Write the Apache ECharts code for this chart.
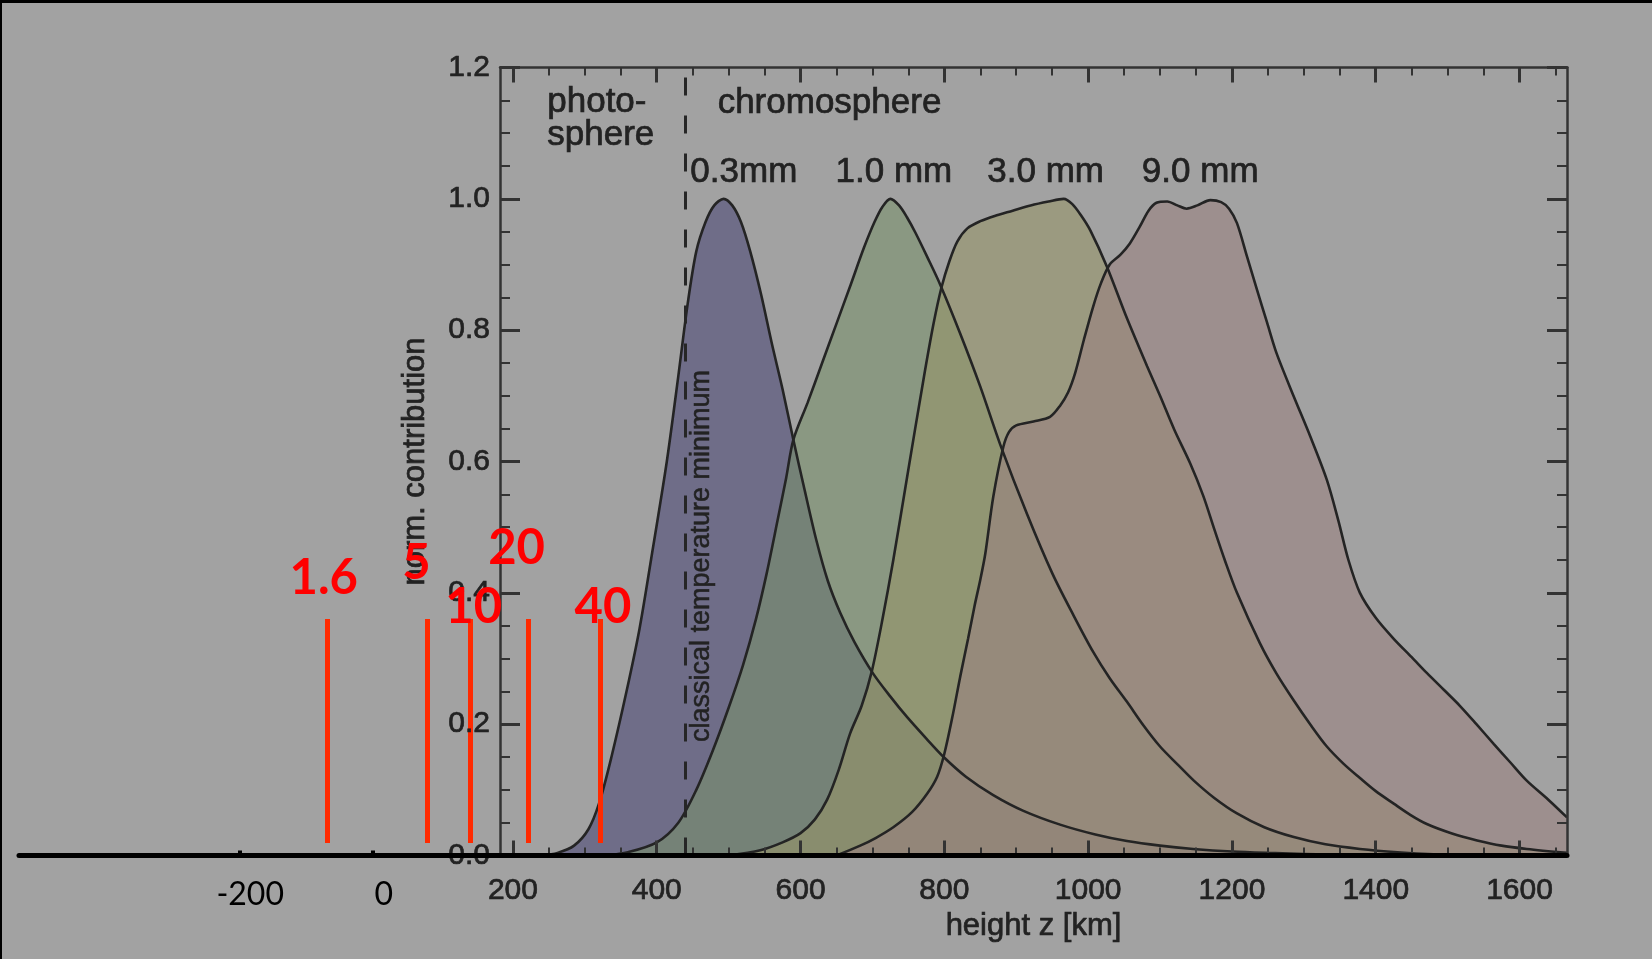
<!DOCTYPE html>
<html>
<head>
<meta charset="utf-8">
<script src="https://cdn.jsdelivr.net/npm/echarts@6/dist/echarts.min.js"></script>
<style>
html,body{margin:0;padding:0;background:#a2a2a2;}
#chart{width:1652px;height:959px;}
#edge{position:absolute;left:0;top:0;width:1652px;height:959px;box-sizing:border-box;border-top:3px solid #000;border-left:2px solid #000;pointer-events:none;}
</style>
</head>
<body>
<div id="chart"></div>
<div id="edge"></div>
<script>
// ---------------- data ----------------
// contribution functions: [height z (km), normalized contribution]
const curve03 = [[240,0],[262,0.004],[285,0.015],[305,0.04],[320,0.08],[337,0.15],[358,0.25],[376,0.345],[392,0.45],[414,0.6],[430,0.73],[443,0.84],[455,0.92],[468,0.965],[480,0.99],[493,1.0],[505,0.99],[517,0.965],[530,0.92],[545,0.855],[560,0.78],[575,0.71],[590,0.633],[606,0.555],[622,0.48],[638,0.418],[655,0.37],[675,0.325],[701,0.277],[725,0.242],[748,0.211],[775,0.178],[799,0.15],[830,0.12],[868,0.092],[910,0.068],[961,0.047],[1010,0.032],[1054,0.022],[1100,0.015],[1146,0.01],[1200,0.006],[1250,0.004],[1350,0.001],[1420,0]];
const curve10 = [[330,0],[360,0.005],[400,0.02],[430,0.05],[455,0.1],[478,0.16],[500,0.225],[520,0.29],[538,0.36],[553,0.43],[568,0.51],[580,0.575],[590,0.633],[610,0.69],[630,0.75],[650,0.81],[670,0.87],[688,0.925],[703,0.965],[714,0.988],[725,1.0],[737,0.99],[748,0.972],[760,0.948],[776,0.912],[794,0.87],[822,0.795],[850,0.714],[878,0.625],[915,0.52],[950,0.43],[980,0.365],[1007,0.31],[1030,0.27],[1054,0.234],[1077,0.198],[1100,0.166],[1125,0.138],[1147,0.114],[1175,0.088],[1207,0.064],[1245,0.043],[1286,0.028],[1330,0.017],[1378,0.01],[1430,0.005],[1480,0.002],[1560,0]];
const curve30 = [[500,0],[544,0.008],[575,0.02],[600,0.034],[620,0.055],[637,0.085],[653,0.13],[669,0.186],[685,0.228],[699,0.28],[714,0.36],[729,0.45],[748,0.575],[771,0.725],[785,0.81],[796,0.865],[807,0.905],[818,0.935],[832,0.955],[850,0.966],[870,0.974],[895,0.982],[920,0.99],[945,0.996],[966,1.0],[978,0.992],[990,0.975],[1003,0.952],[1026,0.897],[1054,0.818],[1082,0.745],[1100,0.7],[1120,0.648],[1142,0.597],[1160,0.548],[1176,0.495],[1190,0.45],[1207,0.4],[1239,0.323],[1262,0.277],[1286,0.236],[1310,0.198],[1332,0.166],[1355,0.14],[1378,0.118],[1400,0.098],[1425,0.079],[1448,0.062],[1471,0.048],[1505,0.034],[1541,0.023],[1575,0.015],[1610,0.01],[1666,0.004]];
const curve90 = [[650,0],[683,0.015],[705,0.027],[729,0.043],[755,0.066],[776,0.094],[790,0.12],[800,0.155],[811,0.21],[822,0.272],[833,0.33],[842,0.38],[850,0.42],[857,0.46],[868,0.546],[882,0.622],[890,0.645],[900,0.655],[924,0.661],[947,0.668],[961,0.685],[972,0.705],[982,0.735],[994,0.785],[1007,0.836],[1018,0.872],[1030,0.9],[1045,0.915],[1058,0.932],[1072,0.958],[1084,0.982],[1095,0.994],[1110,0.996],[1124,0.99],[1137,0.985],[1152,0.99],[1170,0.998],[1185,0.995],[1196,0.985],[1207,0.963],[1221,0.912],[1235,0.861],[1249,0.811],[1262,0.765],[1286,0.699],[1309,0.638],[1332,0.572],[1348,0.51],[1362,0.45],[1378,0.4],[1400,0.362],[1425,0.33],[1450,0.302],[1471,0.278],[1495,0.252],[1517,0.228],[1540,0.2],[1564,0.17],[1587,0.142],[1610,0.114],[1640,0.085],[1666,0.058]];
const curveNames = ['0.3mm', '1.0 mm', '3.0 mm', '9.0 mm'];

// axis ticks
const xMajorTicks = [200,400,600,800,1000,1200,1400,1600];
const xMinorTicks = [200,250,300,350,400,450,500,550,600,650,700,750,800,850,900,950,1000,1050,1100,1150,1200,1250,1300,1350,1400,1450,1500,1550,1600,1650];
const overlayTicks = [-200, 0];

// annotations (text, height km, contribution level)
const annoTexts = ['photo-\nsphere', 'chromosphere', '0.3mm', '1.0 mm', '3.0 mm', '9.0 mm'];
const annoHeights = [247, 484, 446, 648, 859, 1074];
const annoLevels = [1.122, 1.145, 1.040, 1.040, 1.040, 1.040];
const tempMinHeight = 440;
const tempMinText = 'classical temperature minimum';
const tempMinLabelPos = [462, 0.456];

// red markers
const redLabels = ['1.6', '5', '10', '20', '40'];
const redHeights = [-58, 81, 141, 221, 321];
const redBottom = 0.019;
const redTop = 0.36;

// ---------------- styles ----------------
const INK = '#222222';
const FRAME = '#333333';
const FONT = 'Liberation Sans';
const fillColors = ['#4d4a77', '#7a916d', '#969569', '#9a8281'];
const redLabelOffsets = [[-3.5,-41],[-10.7,-55.5],[3.4,-11.5],[-11.3,-71],[3.1,-11.5]];
const bold = {textBorderColor: INK, textBorderWidth: 0.7};
const hiddenSymbol = {color: 'rgba(0,0,0,0)', opacity: 1};

const chart = echarts.init(document.getElementById('chart'), null, {renderer: 'canvas'});

const curves = [curve03, curve10, curve30, curve90];
const curveSeries = curves.map((d, i) => ({
  name: curveNames[i],
  type: 'line',
  xAxisIndex: 0, yAxisIndex: 0,
  data: d,
  symbol: 'none',
  smooth: 0.3,
  silent: true,
  z: 2,
  lineStyle: {color: '#242424', width: 2.6},
  areaStyle: {color: fillColors[i], opacity: 0.6}
}));

const annoData = annoTexts.map((t, i) => ({
  value: [annoHeights[i], annoLevels[i]],
  name: t,
  label: Object.assign({show: true, position: 'right', distance: 0, formatter: t,
          fontSize: 35, lineHeight: 33, fontFamily: FONT, color: INK, align: 'left', verticalAlign: 'middle'}, bold)
}));
annoData.push({
  value: tempMinLabelPos,
  name: tempMinText,
  label: Object.assign({show: true, position: 'inside', formatter: tempMinText, rotate: 90,
          fontSize: 27, fontFamily: FONT, color: INK, align: 'center', verticalAlign: 'middle'}, {textBorderColor: INK, textBorderWidth: 0.5})
});

const redData = redLabels.map((t, i) => ({
  value: [redHeights[i], redTop],
  name: t,
  label: {show: true, position: 'inside', formatter: t, offset: redLabelOffsets[i],
          fontSize: 49, fontWeight: 'bold', fontFamily: 'Lato', color: '#ff0000'}
}));

const minorX = (pos) => ({
  gridIndex: 0, type: 'value', position: pos, min: 182, max: 1666, z: 5,
  axisLine: {show: false, onZero: false},
  axisTick: {show: true, inside: true, length: 8, customValues: xMinorTicks, lineStyle: {color: FRAME, width: 2}},
  axisLabel: {show: false}, splitLine: {show: false}
});

const option = {
  backgroundColor: '#a2a2a2',
  animation: false,
  grid: [
    {left: 500, right: 85, top: 67.5, bottom: 103.5},
    {left: 19, right: 85, top: 67.5, bottom: 103.5}
  ],
  xAxis: [
    {
      gridIndex: 0, type: 'value', position: 'bottom', min: 182, max: 1666, z: 5,
      axisLine: {show: true, onZero: false, lineStyle: {color: FRAME, width: 2.5}},
      axisTick: {show: true, inside: true, length: 15, customValues: xMajorTicks, lineStyle: {color: FRAME, width: 3}},
      axisLabel: Object.assign({show: true, customValues: xMajorTicks, formatter: v => String(v), margin: 20, fontSize: 30, fontFamily: FONT, color: INK}, bold),
      splitLine: {show: false},
      name: 'height z [km]', nameLocation: 'middle', nameGap: 52,
      nameTextStyle: Object.assign({fontSize: 31, fontFamily: FONT, color: INK}, bold)
    },
    minorX('bottom'),
    {
      gridIndex: 0, type: 'value', position: 'top', min: 182, max: 1666, z: 5,
      axisLine: {show: true, onZero: false, lineStyle: {color: FRAME, width: 2.5}},
      axisTick: {show: true, inside: true, length: 15, customValues: xMajorTicks, lineStyle: {color: FRAME, width: 3}},
      axisLabel: {show: false}, splitLine: {show: false}
    },
    minorX('top'),
    {
      gridIndex: 1, type: 'value', position: 'bottom', min: -530.6, max: 1788.5, z: 10,
      axisLine: {show: true, onZero: false, lineStyle: {color: '#000', width: 5}},
      axisTick: {show: true, inside: true, length: 5, customValues: overlayTicks, lineStyle: {color: '#000', width: 4}},
      axisLabel: {show: true, customValues: overlayTicks, formatter: v => String(v), margin: 23, fontSize: 32, fontFamily: 'Lato', color: '#000', padding: [0, 0, 0, 21]},
      splitLine: {show: false}
    },
    {gridIndex: 1, type: 'value', min: -486.8, max: 1666.2, show: false, axisLine: {onZero: false}, splitLine: {show: false}}
  ],
  yAxis: [
    {
      gridIndex: 0, type: 'value', position: 'left', min: 0, max: 1.2, interval: 0.2, z: 5,
      axisLine: {show: true, onZero: false, lineStyle: {color: FRAME, width: 2.5}},
      axisTick: {show: true, inside: true, length: 20, lineStyle: {color: FRAME, width: 3}},
      minorTick: {show: true, splitNumber: 4, length: 10, lineStyle: {color: FRAME, width: 2}},
      axisLabel: Object.assign({formatter: v => v.toFixed(1), margin: 10, fontSize: 30, fontFamily: FONT, color: INK}, bold),
      splitLine: {show: false}, minorSplitLine: {show: false},
      name: 'norm. contribution', nameLocation: 'middle', nameGap: 69, nameRotate: 90,
      nameTextStyle: Object.assign({fontSize: 31, fontFamily: FONT, color: INK}, bold)
    },
    {
      gridIndex: 0, type: 'value', position: 'right', min: 0, max: 1.2, interval: 0.2, z: 5,
      axisLine: {show: true, onZero: false, lineStyle: {color: FRAME, width: 2.5}},
      axisTick: {show: true, inside: true, length: 20, lineStyle: {color: FRAME, width: 3}},
      minorTick: {show: true, splitNumber: 4, length: 10, lineStyle: {color: FRAME, width: 2}},
      axisLabel: {show: false},
      splitLine: {show: false}, minorSplitLine: {show: false}
    },
    {gridIndex: 1, type: 'value', min: 0, max: 1.2, show: false, axisLine: {onZero: false}, splitLine: {show: false}}
  ],
  series: [
    ...curveSeries,
    {
      type: 'scatter', xAxisIndex: 0, yAxisIndex: 0, z: 6, silent: true,
      symbolSize: 1, itemStyle: hiddenSymbol,
      data: annoData,
      markLine: {
        silent: true, symbol: ['none', 'none'],
        label: {show: false},
        lineStyle: {type: [18, 20], color: '#262626', width: 3, opacity: 1},
        data: [{xAxis: tempMinHeight}]
      }
    },
    {
      type: 'scatter', xAxisIndex: 5, yAxisIndex: 2, z: 8, silent: true,
      symbolSize: 1, itemStyle: hiddenSymbol,
      data: redData,
      markLine: {
        silent: true, symbol: ['none', 'none'],
        label: {show: false},
        lineStyle: {type: 'solid', color: '#ff2a00', width: 5, opacity: 1},
        data: redHeights.map(h => [{coord: [h, redBottom]}, {coord: [h, redTop]}])
      }
    }
  ]
};
chart.setOption(option);
</script>
</body>
</html>
